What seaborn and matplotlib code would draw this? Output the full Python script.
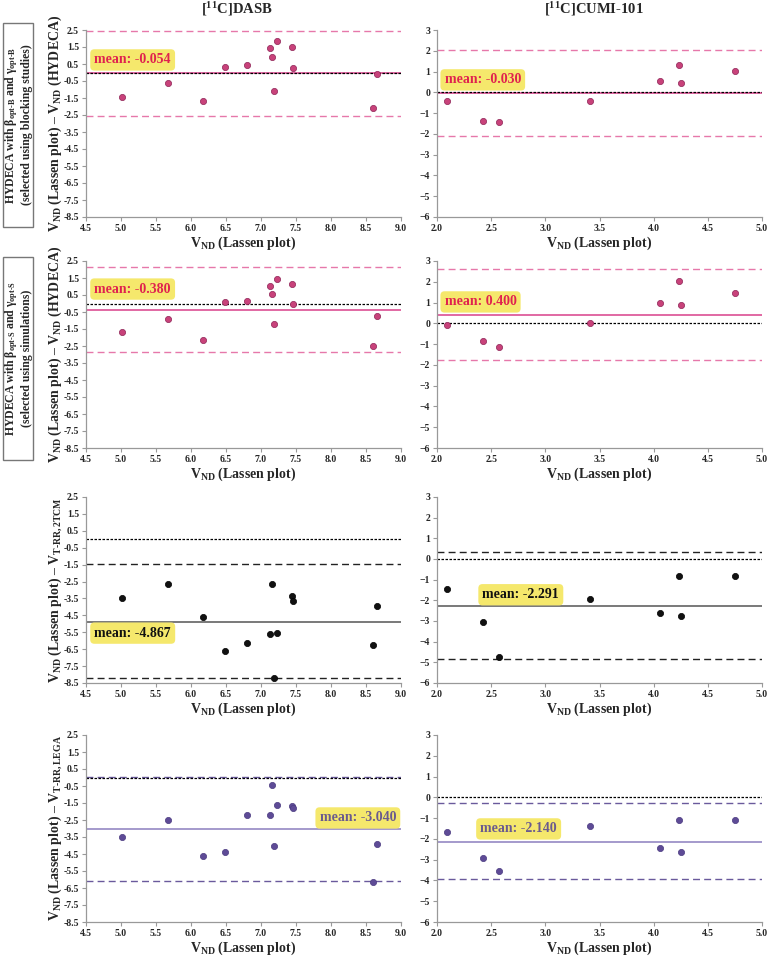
import numpy as np
import pandas as pd
import matplotlib
matplotlib.use("Agg")
import matplotlib.pyplot as plt
import matplotlib.patches as patches
import seaborn as sns

sns.set_style("ticks")
plt.rcParams['font.family'] = ['Liberation Serif', 'DejaVu Serif']
plt.rcParams['font.weight'] = 'bold'
plt.rcParams['mathtext.fontset'] = 'custom'
plt.rcParams['mathtext.rm'] = 'Liberation Serif:bold'
plt.rcParams['mathtext.it'] = 'Liberation Serif:bold'
plt.rcParams['mathtext.bf'] = 'Liberation Serif:bold'

# x values: V_ND (Lassen plot)
x_dasb = [5.01, 5.67, 6.17, 6.48, 6.80, 7.13, 7.16, 7.18, 7.23, 7.44, 7.46, 8.60, 8.66]
x_cumi = [2.09, 2.42, 2.57, 3.41, 4.06, 4.23, 4.25, 4.75]

# differences, one array per panel
dasb_hydeca_b = [-1.47, -0.60, -1.70, 0.32, 0.44, 1.46, 0.89, -1.11, 1.85, 1.48, 0.28, -2.06, -0.09]
cumi_hydeca_b = [-0.40, -1.37, -1.41, -0.40, 0.56, 1.33, 0.45, 1.05]
dasb_hydeca_s = [-1.68, -0.93, -2.13, 0.09, 0.13, 1.05, 0.58, -1.21, 1.46, 1.17, -0.03, -2.48, -0.74]
cumi_hydeca_s = [-0.10, -0.87, -1.13, 0.03, 0.98, 2.05, 0.86, 1.46]
dasb_2tcm = [-3.49, -2.63, -4.61, -6.62, -6.16, -5.61, -2.65, -8.21, -5.55, -3.37, -3.63, -6.28, -3.92]
cumi_2tcm = [-1.47, -3.04, -4.74, -1.94, -2.60, -0.80, -2.76, -0.82]
dasb_lega = [-3.49, -2.51, -4.59, -4.36, -2.18, -2.18, -0.45, -4.00, -1.61, -1.68, -1.80, -6.12, -3.89]
cumi_lega = [-1.69, -2.94, -3.56, -1.37, -2.46, -1.07, -2.64, -1.11]

means = [-0.054, -0.030, -0.380, 0.400, -4.867, -2.291, -3.040, -2.140]
loa_hi = [2.45, 2.03, 2.15, 2.60, -1.45, 0.32, 0.04, -0.29]
loa_lo = [-2.55, -2.09, -2.87, -1.76, -8.21, -4.86, -6.07, -3.91]

col_titles = ["[$^{11}$C]DASB", "[$^{11}$C]CUMI-101"]
ylabels = [
    "V$_{ND}$ (Lassen plot) – V$_{ND}$ (HYDECA)",
    "V$_{ND}$ (Lassen plot) – V$_{ND}$ (HYDECA)",
    "V$_{ND}$ (Lassen plot) – V$_{T\\text{-}RR,2TCM}$",
    "V$_{ND}$ (Lassen plot) – V$_{T\\text{-}RR,LEGA}$",
]
row_labels = [
    "HYDECA with β$_{\\text{opt-B}}$ and γ$_{\\text{opt-B}}$\n(selected using blocking studies)",
    "HYDECA with β$_{\\text{opt-S}}$ and γ$_{\\text{opt-S}}$\n(selected using simulations)",
]
xlabel = "V$_{ND}$ (Lassen plot)"

series = [dasb_hydeca_b, cumi_hydeca_b, dasb_hydeca_s, cumi_hydeca_s,
          dasb_2tcm, cumi_2tcm, dasb_lega, cumi_lega]

# styling per row: marker face, marker edge, loa color, mean color, label text color
pink = dict(face="#c8427a", edge="#8e2356", loa="#e678aa", mean="#d8408a", txt="#e0224e")
black = dict(face="#111111", edge="#000000", loa="#222222", mean="#555555", txt="#111111")
purple = dict(face="#5e4b96", edge="#4a3a80", loa="#6a5a9c", mean="#8b7fbe", txt="#6a5a8e")
row_styles = [pink, pink, black, purple]

# label positions (x, y, ha) in data coords
label_pos = [(4.62, 0.74, "left"), (2.07, 0.60, "left"),
             (4.62, 0.85, "left"), (2.07, 1.03, "left"),
             (4.62, -5.55, "left"), (2.42, -1.73, "left"),
             (8.93, -2.38, "right"), (2.40, -1.52, "left")]

W, H = 769, 960
fig = plt.figure(figsize=(W / 100, H / 100), dpi=100)

row_px = [(30, 217), (261, 448), (497, 683), (735, 922)]
col_px = [(86, 401), (437, 762)]

for r in range(4):
    for c in range(2):
        i = r * 2 + c
        top, bot = row_px[r]
        lft, rgt = col_px[c]
        ax = fig.add_axes([lft / W, 1 - bot / H, (rgt - lft) / W, (bot - top) / H])
        st = row_styles[r]
        xs = x_dasb if c == 0 else x_cumi
        df = pd.DataFrame({"x": xs, "d": series[i]})

        ax.axhline(0, color="black", lw=0.9, ls=(0, (2, 1.2)), zorder=2)
        ax.axhline(means[i], color=st["mean"], lw=1.1, zorder=1)
        ax.axhline(loa_hi[i], color=st["loa"], lw=1.0, ls=(0, (5, 3)), zorder=1)
        ax.axhline(loa_lo[i], color=st["loa"], lw=1.0, ls=(0, (5, 3)), zorder=1)
        sns.scatterplot(data=df, x="x", y="d", ax=ax, s=20, color=st["face"],
                        edgecolor=st["edge"], linewidth=0.5, zorder=3, legend=False)

        if c == 0:
            ax.set_xlim(4.5, 9.0)
            ax.set_ylim(-8.5, 2.5)
            ax.set_xticks(np.arange(4.5, 9.01, 0.5))
            ax.set_yticks(np.arange(-8.5, 2.51, 1.0))
            ax.xaxis.set_major_formatter(matplotlib.ticker.FormatStrFormatter("%.1f"))
            ax.yaxis.set_major_formatter(matplotlib.ticker.FormatStrFormatter("%.1f"))
            ax.set_ylabel(ylabels[r], fontsize=10, fontweight="bold", labelpad=0)
        else:
            ax.set_xlim(2.0, 5.0)
            ax.set_ylim(-6, 3)
            ax.set_xticks(np.arange(2.0, 5.01, 0.5))
            ax.set_yticks(np.arange(-6, 3.1, 1))
            ax.xaxis.set_major_formatter(matplotlib.ticker.FormatStrFormatter("%.1f"))
            ax.set_ylabel("")
        ax.set_xlabel(xlabel, fontsize=10, fontweight="bold", labelpad=1)

        for sp in ["top", "right"]:
            ax.spines[sp].set_visible(False)
        for sp in ["left", "bottom"]:
            ax.spines[sp].set_color("#999999")
            ax.spines[sp].set_linewidth(0.9)
        ax.tick_params(axis="both", length=3, width=0.8, color="#999999",
                       labelsize=7, pad=2)
        for t in ax.get_xticklabels() + ax.get_yticklabels():
            t.set_fontweight("bold")

        lx, ly, ha = label_pos[i]
        ax.text(lx, ly, f"mean: {means[i]:.3f}", ha=ha,
                va="center", fontsize=10, fontweight="bold", color=st["txt"], zorder=5,
                bbox=dict(boxstyle="round,pad=0.3,rounding_size=0.3", fc="#f5e86c", ec="none"))

# column titles
fig.text(237 / W, 1 - 9 / H, col_titles[0], ha="center", va="center",
         fontsize=10.5, fontweight="bold")
fig.text(594 / W, 1 - 9 / H, col_titles[1], ha="center", va="center",
         fontsize=10.5, fontweight="bold")

# boxed row labels
box_px = [(23, 227), (257, 460)]
for (t, b), lab in zip(box_px, row_labels):
    fig.patches.append(patches.Rectangle((3 / W, 1 - b / H), 30 / W, (b - t) / H,
                                         transform=fig.transFigure, fill=False,
                                         ec="#777777", lw=1.0))
    fig.text(18 / W, 1 - (t + b) / 2 / H, lab, rotation=90, ha="center", va="center",
             fontsize=8.5, fontweight="bold", linespacing=1.1, multialignment="center")

fig.savefig("out.png", dpi=100)
